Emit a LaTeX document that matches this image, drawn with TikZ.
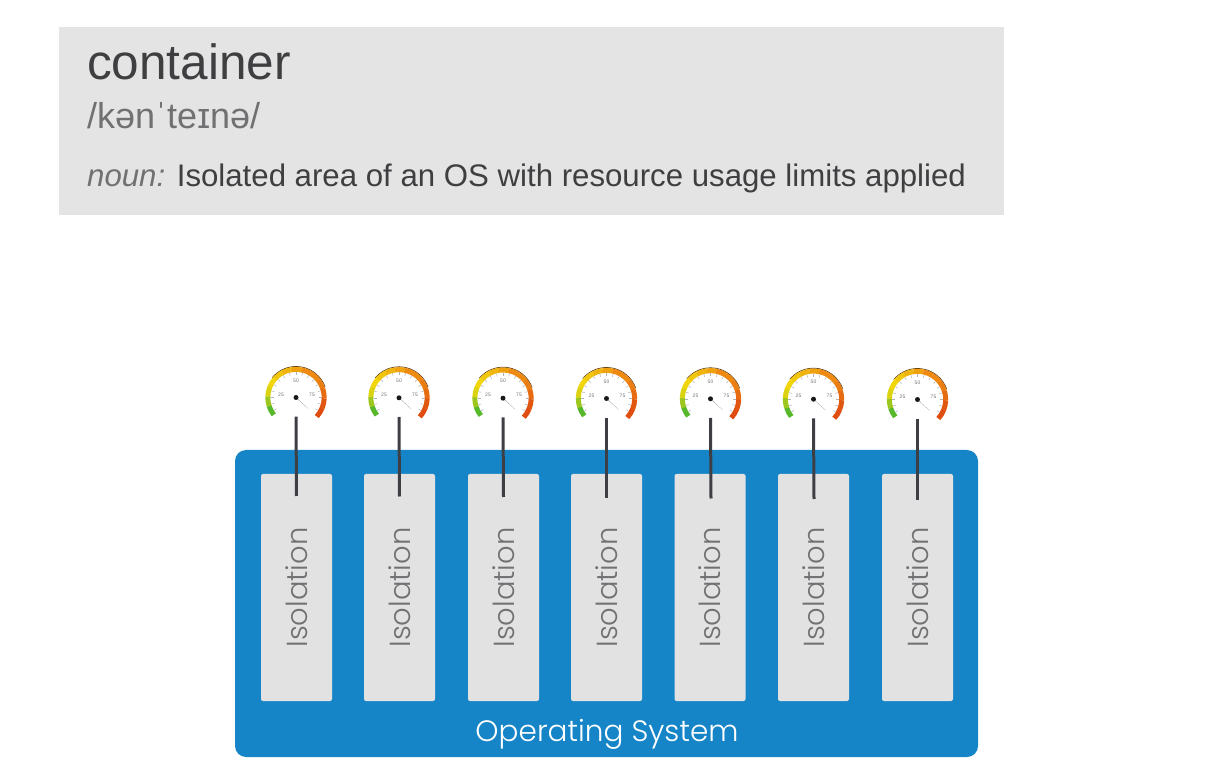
\documentclass[tikz,border=0pt]{standalone}
\usepackage{fontspec}
\setmainfont{Liberation Sans}
\newfontfamily\thinfont{Poppins Light}
\definecolor{bandgrey}{HTML}{E4E4E4}
\definecolor{boxgrey}{HTML}{E2E2E3}
\definecolor{osblue}{HTML}{1685C8}
\definecolor{inkdark}{HTML}{3F3F42}
\definecolor{inkgrey}{HTML}{717174}
\definecolor{stemgrey}{HTML}{3E3F44}
\definecolor{dialgreen}{HTML}{58B82C}
\definecolor{dialyellow}{HTML}{F2D60C}
\definecolor{dialorange}{HTML}{EE8A12}
\definecolor{dialred}{HTML}{DF4E10}
\tikzset{
	headtext/.style={anchor=base west,inner sep=0pt},
	isobox/.style={fill=boxgrey,rounded corners=2pt,minimum width=227pt,minimum height=71pt,inner sep=0pt,rotate=90,text=inkgrey,font=\thinfont\fontsize{29}{29}\selectfont},
	dialspot/.style={circle,minimum size=38pt,inner sep=0pt},
	stem/.style={stemgrey,line width=3pt},
	dial/.pic={
		\draw[line width=.7pt,black!60!dialorange] (140:31) arc (140:20:31);
		\foreach \ang/\tone in {218/dialgreen,198/dialgreen!55!dialyellow,178/dialgreen!15!dialyellow,158/dialyellow,138/dialyellow!80!dialorange,118/dialyellow!55!dialorange,98/dialyellow!30!dialorange,78/dialorange,58/dialorange,38/dialorange!80!dialred,18/dialorange!50!dialred,-2/dialred!85!dialorange,-22/dialred}
			\draw[\tone,line width=5pt] (\ang:28.2) arc (\ang:{\ang-20.5}:28.2);
		\foreach \ang in {210,195,...,-30}
			\draw[black!30,line width=.5pt] (\ang:22.5) -- (\ang:25.5);
		\node[font=\fontsize{5}{5}\selectfont,text=inkgrey] at (-15,3) {25};
		\node[font=\fontsize{5}{5}\selectfont,text=inkgrey] at (0,17) {50};
		\node[font=\fontsize{5}{5}\selectfont,text=inkgrey] at (16,3) {75};
		\fill[black!65] (-1.2,1.2) -- (12,-11) -- (1.2,-1.2) -- cycle;
		\fill[black!90] (0,0) circle (2.5);
	}
}
\begin{document}
\begin{tikzpicture}[x=1pt,y=1pt]
	\useasboundingbox (0,0) rectangle (1212,774);

	\node[fill=bandgrey,minimum width=945pt,minimum height=188pt,inner sep=0pt] (band) at (531.5,653) {};
	\node[headtext,text=inkdark,font=\fontsize{49.5}{50}\selectfont] (word) at (87,694) {container};
	\node[headtext,text=inkgrey,font=\fontsize{36}{36}\selectfont] (phon) at (87,645) {/kənˈteɪnə/};
	\node[headtext,text=inkdark,font=\fontsize{31.2}{32}\selectfont] (sense) at (87,587) {\textcolor{inkgrey}{\textit{noun:}} Isolated area of an OS with resource usage limits applied};

	\node[fill=osblue,rounded corners=11pt,minimum width=743pt,minimum height=307pt,inner sep=0pt] (os) at (606.5,170.5) {};
	\node[text=white,inner sep=0pt,font=\thinfont\fontsize{29.5}{30}\selectfont] (oslabel) at (607,40) {Operating System};

	\node[isobox] (boxA) at (296.5,186.5) {Isolation};
	\node[isobox] (boxB) at (399.5,186.5) {Isolation};
	\node[isobox] (boxC) at (503.5,186.5) {Isolation};
	\node[isobox] (boxD) at (606.5,186.5) {Isolation};
	\node[isobox] (boxE) at (710,186.5) {Isolation};
	\node[isobox] (boxF) at (813.5,186.5) {Isolation};
	\node[isobox] (boxG) at (917.5,186.5) {Isolation};

	\node[dialspot] (dialA) at (296,376.5) {};
	\node[dialspot] (dialB) at (399,376.2) {};
	\node[dialspot] (dialC) at (503,375.8) {};
	\node[dialspot] (dialD) at (606.5,375.5) {};
	\node[dialspot] (dialE) at (710.5,375.2) {};
	\node[dialspot] (dialF) at (813.5,374.8) {};
	\node[dialspot] (dialG) at (917.5,374.5) {};

	\pic at (dialA) {dial};
	\pic at (dialB) {dial};
	\pic at (dialC) {dial};
	\pic at (dialD) {dial};
	\pic at (dialE) {dial};
	\pic at (dialF) {dial};
	\pic at (dialG) {dial};

	\coordinate (tipA) at (296.5,278);
	\coordinate (tipB) at (399.5,277.5);
	\coordinate (tipC) at (503.5,277);
	\coordinate (tipD) at (606.5,276);
	\coordinate (tipE) at (711,275.5);
	\coordinate (tipF) at (814,275);
	\coordinate (tipG) at (917.5,274);

	\draw[stem] (dialA.south) -- (tipA);
	\draw[stem] (dialB.south) -- (tipB);
	\draw[stem] (dialC.south) -- (tipC);
	\draw[stem] (dialD.south) -- (tipD);
	\draw[stem] (dialE.south) -- (tipE);
	\draw[stem] (dialF.south) -- (tipF);
	\draw[stem] (dialG.south) -- (tipG);

\end{tikzpicture}
\end{document}
